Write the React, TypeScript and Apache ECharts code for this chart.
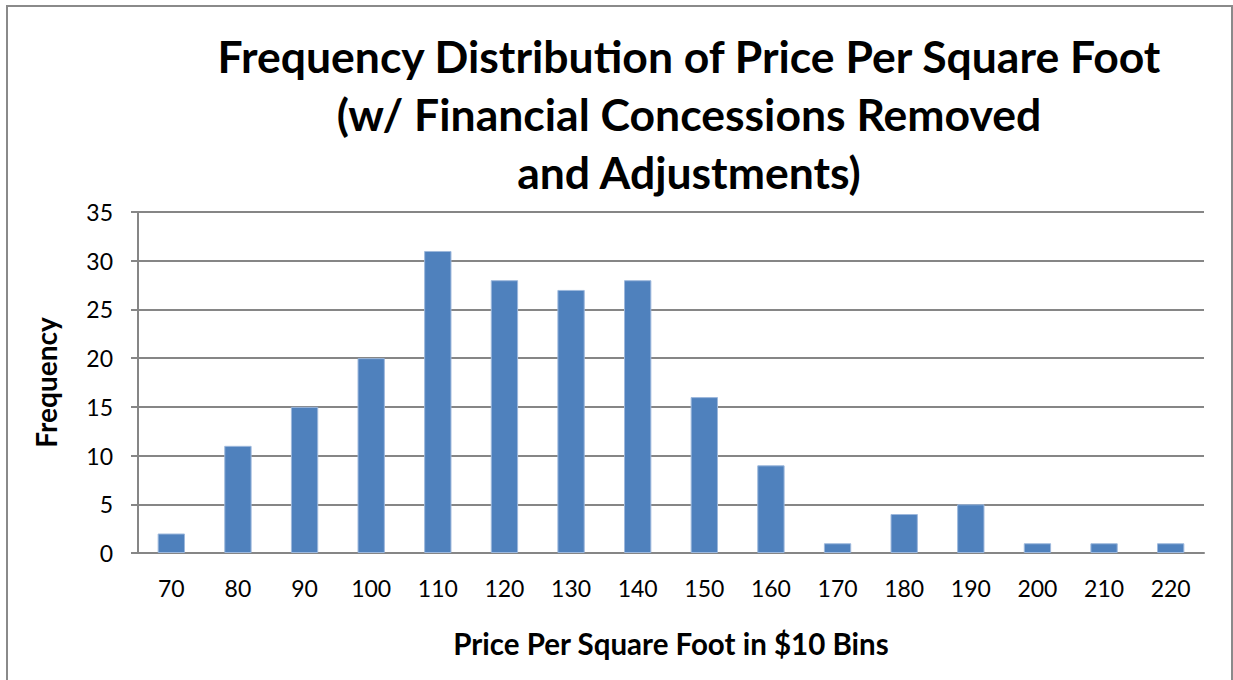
import React, { useEffect, useRef } from "react";
import * as echarts from "echarts";

const categories = ["70", "80", "90", "100", "110", "120", "130", "140", "150", "160", "170", "180", "190", "200", "210", "220"];
const frequencies = [2, 11, 15, 20, 31, 28, 27, 28, 16, 9, 1, 4, 5, 1, 1, 1];
const titleLines = [
  "Frequency Distribution of Price Per Square Foot",
  "(w/ Financial Concessions Removed",
  "and Adjustments)",
];
const xAxisName = "Price Per Square Foot in $10 Bins";
const yAxisName = "Frequency";

const FONT = "Lato, 'Open Sans', sans-serif";

export default function App() {
  const ref = useRef<HTMLDivElement>(null);
  useEffect(() => {
    if (!ref.current) return;
    const chart = echarts.init(ref.current, null, { renderer: "svg" });
    chart.setOption({
      animation: false,
      backgroundColor: "#ffffff",
      title: {
        text: titleLines.join("\n"),
        left: 684,
        top: 21,
        textAlign: "center",
        textStyle: {
          fontFamily: FONT,
          fontWeight: "bold",
          fontSize: 44.5,
          lineHeight: 58,
          color: "#000000",
        },
      },
      graphic: [
        {
          type: "rect",
          shape: { x: 7, y: 6, width: 1225, height: 700 },
          style: { fill: "none", stroke: "#8a8a8a", lineWidth: 2 },
          silent: true,
          z: -1,
        },
      ],
      grid: { left: 138, right: 29, top: 212, bottom: 127 },
      xAxis: {
        type: "category",
        data: categories,
        name: xAxisName,
        nameLocation: "middle",
        nameGap: 75,
        nameTextStyle: { fontFamily: FONT, fontWeight: "bold", fontSize: 29.5, color: "#000" },
        axisLine: { lineStyle: { color: "#868686", width: 2 } },
        axisTick: { show: false },
        axisLabel: { fontFamily: FONT, fontSize: 23, color: "#000", margin: 23 },
      },
      yAxis: {
        type: "value",
        min: 0,
        max: 35,
        interval: 5,
        name: yAxisName,
        nameLocation: "middle",
        nameRotate: 90,
        nameGap: 78,
        nameTextStyle: { fontFamily: FONT, fontWeight: "bold", fontSize: 28, color: "#000" },
        axisLine: { show: true, lineStyle: { color: "#868686", width: 2 } },
        axisTick: { show: true, length: 7, lineStyle: { color: "#868686", width: 2 } },
        axisLabel: { fontFamily: FONT, fontSize: 23, color: "#000", margin: 25 },
        splitLine: { lineStyle: { color: "#868686", width: 2 } },
      },
      series: [
        {
          type: "bar",
          data: frequencies,
          barWidth: "41%",
          itemStyle: { color: "#4F81BD", borderColor: "#9db8dc", borderWidth: 1 },
        },
      ],
    });
    return () => chart.dispose();
  }, []);
  return (
    <div
      ref={ref}
      style={{ position: "fixed", left: 0, top: 0, width: 1233, height: 680 }}
    />
  );
}
